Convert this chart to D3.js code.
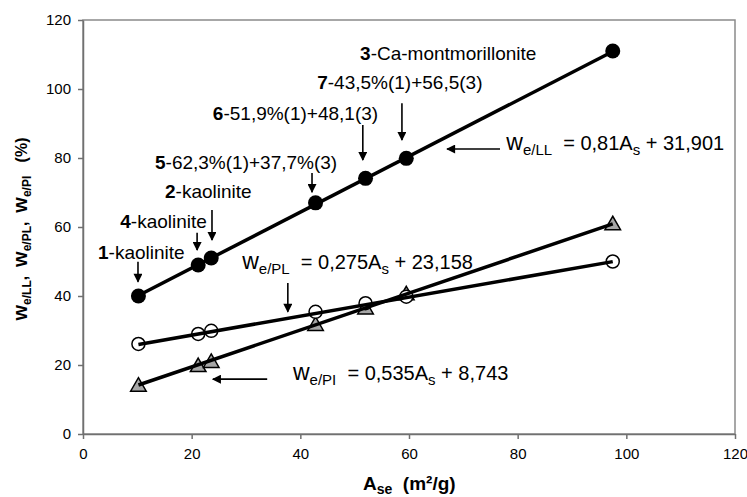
<!DOCTYPE html>
<html>
<head>
<meta charset="utf-8">
<script src="https://cdn.jsdelivr.net/npm/d3@7"></script>
<style>
  body { margin: 0; background: #fff; }
  svg { display: block; font-family: "Liberation Sans", Arial, sans-serif; }
  svg text { white-space: pre; }
</style>
</head>
<body>
<svg></svg>
<script>
// specific surface of each sample (m2/g)
let samples = [1, 4, 2, 5, 6, 7, 3];
let ase = [10.2, 21.2, 23.6, 42.8, 52.0, 59.5, 97.5];
// water content series (%)
let wLL = [40, 49, 51, 67, 74.1, 79.9, 111];
let wPL = [26.1, 29, 29.9, 35.4, 37.9, 39.8, 50];
let wPI = [14, 19.7, 20.9, 31.6, 36.4, 40.5, 60.8];
// trend line coefficients [slope, intercept]
let fitLL = [0.81, 31.901];
let fitPL = [0.275, 23.158];
let fitPI = [0.535, 8.743];
let xTicks = [0, 20, 40, 60, 80, 100, 120];
let yTicks = [0, 20, 40, 60, 80, 100, 120];

let width = 747;
let height = 497;
let padLeft = 83, padRight = 735, padTop = 20, padBottom = 434;

let svg = d3.select("svg").attr("width", width).attr("height", height);

let x = d3.scaleLinear().domain([0, 120]).range([padLeft, padRight]);
let y = d3.scaleLinear().domain([0, 120]).range([padBottom, padTop]);

//plot frame
svg.append("rect")
  .attr("x", padLeft).attr("y", padTop)
  .attr("width", padRight - padLeft).attr("height", padBottom - padTop)
  .attr("fill", "none").attr("stroke", "#8a8a8a").attr("stroke-width", 1.5);

let yAxis = svg.append("g")
  .attr("transform", "translate(" + padLeft + ",0)")
  .call(d3.axisLeft(y).tickValues(yTicks).tickSize(5).tickSizeOuter(0).tickPadding(7));
let xAxis = svg.append("g")
  .attr("transform", "translate(0," + padBottom + ")")
  .call(d3.axisBottom(x).tickValues(xTicks).tickSize(5).tickSizeOuter(0).tickPadding(9));
[xAxis, yAxis].forEach((g) => {
  g.selectAll("path, line").attr("stroke", "#707070").attr("stroke-width", 1.5);
  g.selectAll("text").attr("font-size", 15).attr("fill", "#000")
    .attr("font-family", "Liberation Sans, Arial, sans-serif");
});

let sym = d3.symbol().type(d3.symbolTriangle).size(105);

// markers
svg.append("g").selectAll("path").data(ase).enter().append("path")
  .attr("d", sym)
  .attr("transform", (d, i) => "translate(" + x(d) + "," + (y(wPI[i]) + 1) + ")")
  .attr("fill", "#a6a6a6").attr("stroke", "#000").attr("stroke-width", 1.5);
svg.append("g").selectAll("circle").data(ase).enter().append("circle")
  .attr("cx", (d) => x(d)).attr("cy", (d, i) => y(wPL[i])).attr("r", 6.5)
  .attr("fill", "#fff").attr("stroke", "#000").attr("stroke-width", 1.5);
svg.append("g").selectAll("circle").data(ase).enter().append("circle")
  .attr("cx", (d) => x(d)).attr("cy", (d, i) => y(wLL[i])).attr("r", 7.5)
  .attr("fill", "#000");

// trend lines, drawn over the markers
let x0 = d3.min(ase), x1 = d3.max(ase);
[fitLL, fitPL, fitPI].forEach((f) => {
  svg.append("line")
    .attr("x1", x(x0)).attr("y1", y(f[0] * x0 + f[1]))
    .attr("x2", x(x1)).attr("y2", y(f[0] * x1 + f[1]))
    .attr("stroke", "#000").attr("stroke-width", 3.5);
});

// arrow head
svg.append("defs").append("marker")
  .attr("id", "head").attr("viewBox", "0 0 10 10")
  .attr("refX", 9).attr("refY", 5)
  .attr("markerWidth", 10).attr("markerHeight", 9)
  .attr("markerUnits", "userSpaceOnUse")
  .attr("orient", "auto")
  .append("path").attr("d", "M0,0 L10,5 L0,10 Z").attr("fill", "#000");

let arrows = [
  [10.12, 49.9, 10.12, 44.1],
  [21.0, 58.3, 21.0, 53.3],
  [23.74, 64.9, 23.74, 56.2],
  [42.15, 75.65, 42.15, 70.1],
  [51.5, 89.6, 51.5, 79.4],
  [58.7, 95.9, 58.7, 85.2],
  [76.75, 82.6, 67.0, 82.6],
  [37.7, 43.8, 37.7, 35.4],
  [33.9, 15.9, 23.9, 15.9]
];
svg.append("g").selectAll("line").data(arrows).enter().append("line")
  .attr("x1", (d) => x(d[0])).attr("y1", (d) => y(d[1]))
  .attr("x2", (d) => x(d[2])).attr("y2", (d) => y(d[3]))
  .attr("stroke", "#000").attr("stroke-width", 1.6)
  .attr("marker-end", "url(#head)");

// sample labels
let labels = [
  ["1", "-kaolinite", 2.76, 52.75, "start"],
  ["4", "-kaolinite", 22.8, 61.7, "end"],
  ["2", "-kaolinite", 15.1, 70.4, "start"],
  ["5", "-62,3%(1)+37,7%(3)", 13.25, 78.8, "start"],
  ["6", "-51,9%(1)+48,1(3)", 23.9, 93.0, "start"],
  ["7", "-43,5%(1)+56,5(3)", 43.1, 102.0, "start"],
  ["3", "-Ca-montmorillonite", 51.0, 110.4, "start"]
];
labels.forEach((l) => {
  let t = svg.append("text")
    .attr("x", x(l[2])).attr("y", y(l[3]))
    .attr("dominant-baseline", "central")
    .attr("text-anchor", l[4])
    .attr("font-size", 19).attr("fill", "#000");
  t.append("tspan").attr("font-weight", "bold").text(l[0]);
  t.append("tspan").text(l[1]);
});

// text with "w", subscripts and normal parts
let richText = (t, parts, sizes) => {
  let shift = 0;
  parts.forEach((p) => {
    let s = t.append("tspan").text(p[1]);
    let dy = 0;
    if (p[0] === "sub") {
      s.attr("font-size", sizes.sub);
      dy = sizes.down - shift;
      shift = sizes.down;
    } else if (p[0] === "w") {
      s.attr("font-size", sizes.w);
      dy = -shift;
      shift = 0;
    } else {
      dy = -shift;
      shift = 0;
    }
    if (dy !== 0) s.attr("dy", dy);
  });
};

let equations = [
  [[["w", "w"], ["sub", "e/LL"], ["n", "  = 0,81A"], ["sub", "s"], ["n", " + 31,901"]], 77.9, 82.2],
  [[["w", "w"], ["sub", "e/PL"], ["n", "  = 0,275A"], ["sub", "s"], ["n", " + 23,158"]], 29.3, 47.9],
  [[["w", "w"], ["sub", "e/PI"], ["n", "  = 0,535A"], ["sub", "s"], ["n", " + 8,743"]], 38.65, 15.6]
];
equations.forEach((e) => {
  let t = svg.append("text")
    .attr("x", x(e[1])).attr("y", y(e[2]))
    .attr("font-size", 20).attr("fill", "#000");
  richText(t, e[0], { w: 23, sub: 15, down: 5 });
});

// y axis title
let yt = svg.append("text")
  .attr("transform", "translate(27,229) rotate(-90)")
  .attr("text-anchor", "middle")
  .attr("font-size", 16).attr("font-weight", "bold").attr("fill", "#000");
richText(yt, [
  ["w", "w"], ["sub", "e/LL"], ["n", ",  "],
  ["w", "w"], ["sub", "e/PL"], ["n", ",  "],
  ["w", "w"], ["sub", "e/PI"], ["n", "   (%)"]
], { w: 20, sub: 12, down: 4 });

// x axis title
let xt = svg.append("text")
  .attr("x", 363).attr("y", 490)
  .attr("font-size", 19).attr("font-weight", "bold").attr("fill", "#000");
richText(xt, [["n", "A"], ["sub", "se"], ["n", "  (m²/g)"]], { w: 19, sub: 14, down: 4 });
</script>
</body>
</html>
